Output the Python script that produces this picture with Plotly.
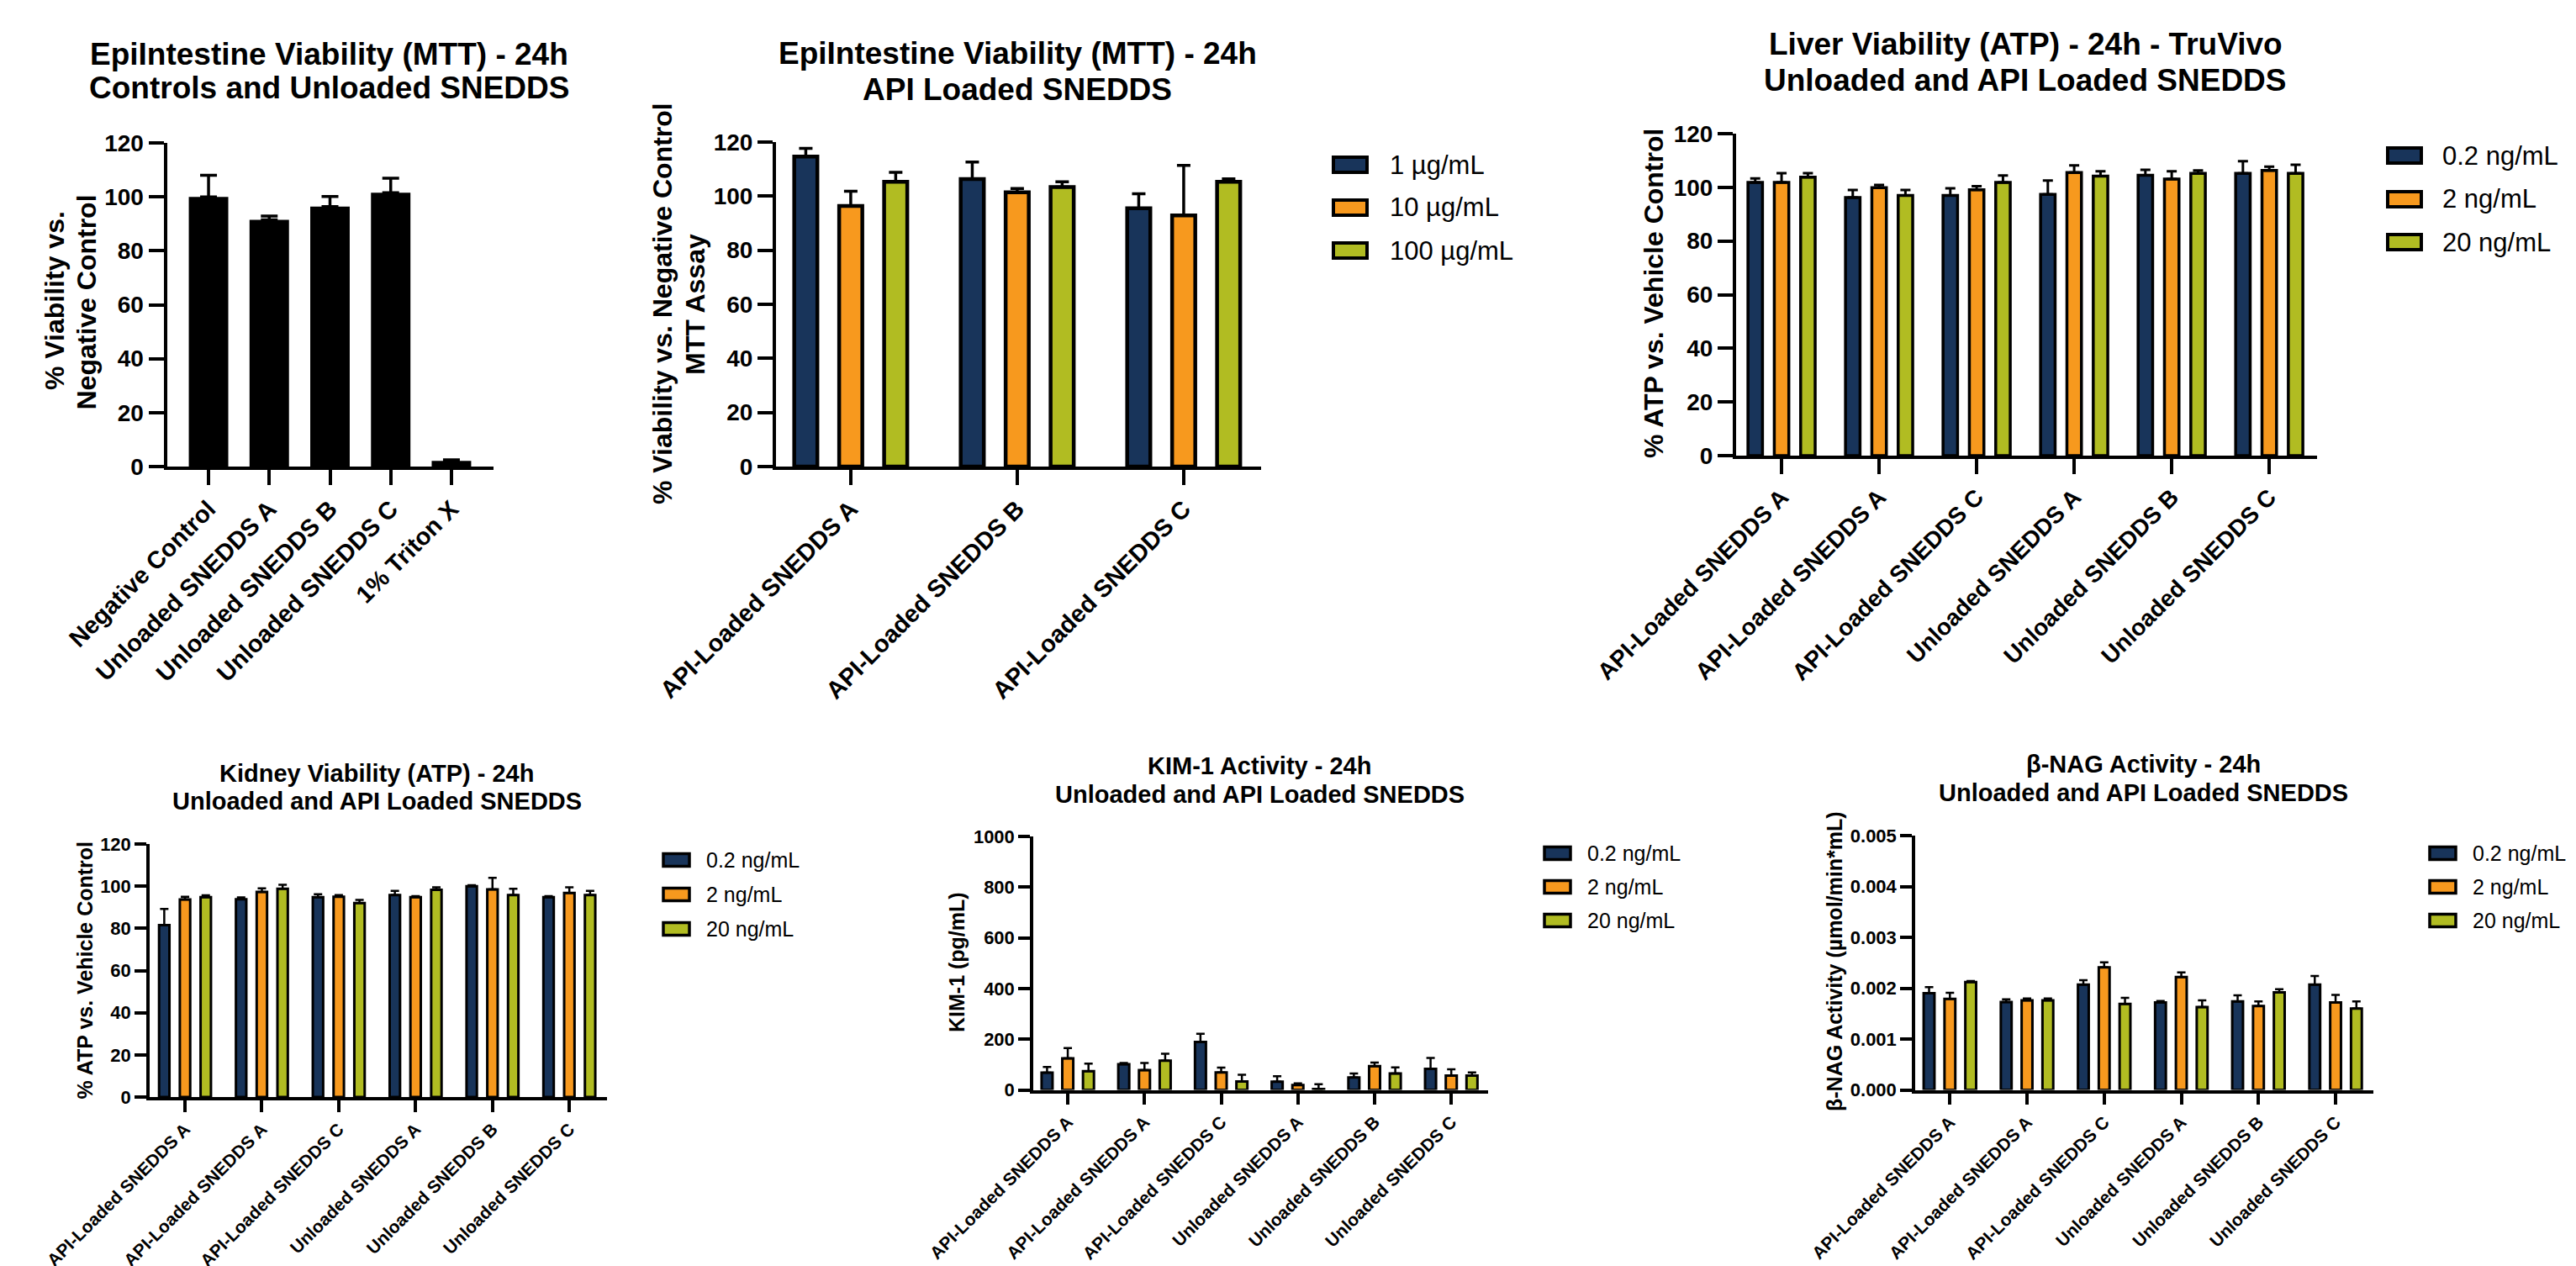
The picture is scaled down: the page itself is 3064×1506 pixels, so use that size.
import numpy as np
import plotly.graph_objects as go

W, H = 3064, 1506
FONT = "Arial, Liberation Sans, Helvetica, sans-serif"
NAVY, ORANGE, OLIVE = "#18345A", "#F7991E", "#B1BC22"

# ---------------- data ----------------
# Panel 1: EpiIntestine MTT - controls & unloaded
p1_categories = ["Negative Control", "Unloaded SNEDDS A", "Unloaded SNEDDS B",
                 "Unloaded SNEDDS C", "1% Triton X"]
p1_mean = [100.0, 91.5, 96.4, 101.5, 2.1]
p1_sd = [8.0, 1.4, 3.7, 5.4, 0.4]

# Panel 2: EpiIntestine MTT - API loaded
p2_categories = ["API-Loaded SNEDDS A", "API-Loaded SNEDDS B", "API-Loaded SNEDDS C"]
p2_series = ["1 µg/mL", "10 µg/mL", "100 µg/mL"]
p2_1ug = [114.6, 106.3, 95.5]
p2_1ug_sd = [3.1, 6.3, 5.4]
p2_10ug = [96.4, 101.4, 92.9]
p2_10ug_sd = [5.4, 1.4, 18.5]
p2_100ug = [105.3, 103.4, 105.3]
p2_100ug_sd = [3.5, 1.9, 1.1]

# shared categories for the 6-group panels
group_categories = ["API-Loaded SNEDDS A", "API-Loaded SNEDDS A", "API-Loaded SNEDDS C",
                    "Unloaded SNEDDS A", "Unloaded SNEDDS B", "Unloaded SNEDDS C"]
ng_series = ["0.2 ng/mL", "2 ng/mL", "20 ng/mL"]

# Panel 3: Liver ATP
p3_02 = [101.8, 96.2, 97.0, 97.4, 104.5, 105.2]
p3_02_sd = [1.5, 2.8, 2.6, 5.1, 2.0, 4.5]
p3_2 = [101.8, 99.9, 99.1, 105.5, 103.1, 106.3]
p3_2_sd = [3.5, 1.0, 1.3, 2.7, 2.9, 1.4]
p3_20 = [103.8, 97.0, 101.8, 104.2, 105.2, 105.2]
p3_20_sd = [1.5, 2.0, 2.6, 1.8, 1.1, 3.2]

# Panel 4: Kidney ATP
p4_02 = [81.5, 93.8, 94.8, 95.8, 100.0, 94.8]
p4_02_sd = [7.7, 0.9, 1.4, 2.0, 0.5, 0.5]
p4_2 = [93.7, 97.3, 95.0, 94.8, 98.5, 96.8]
p4_2_sd = [1.3, 1.7, 0.8, 0.5, 5.5, 2.7]
p4_20 = [94.8, 98.8, 92.0, 98.3, 95.8, 95.8]
p4_20_sd = [0.9, 1.9, 1.5, 1.2, 3.0, 2.0]

# Panel 5: KIM-1 (pg/mL)
p5_02 = [68, 101, 189, 32, 49, 83]
p5_02_sd = [22, 5, 32, 22, 16, 43]
p5_2 = [124, 78, 69, 19, 94, 56]
p5_2_sd = [41, 28, 19, 7, 14, 25]
p5_20 = [74, 115, 33, 3, 65, 56]
p5_20_sd = [30, 28, 27, 19, 24, 13]

# Panel 6: beta-NAG (umol/min*mL)
p6_02 = [0.00190, 0.00173, 0.00207, 0.00172, 0.00174, 0.00207]
p6_02_sd = [0.00012, 0.00005, 0.00009, 0.00003, 0.00012, 0.00017]
p6_2 = [0.00179, 0.00176, 0.00241, 0.00222, 0.00165, 0.00172]
p6_2_sd = [0.00012, 0.00004, 0.00010, 0.00009, 0.00009, 0.00015]
p6_20 = [0.00212, 0.00176, 0.00169, 0.00163, 0.00192, 0.00160]
p6_20_sd = [0.00002, 0.00004, 0.00012, 0.00013, 0.00006, 0.00014]

COLORS = [NAVY, ORANGE, OLIVE]


def px_x(v):
    return v / W


def px_y(v):
    return 1 - v / H


fig = go.Figure()
annotations = []
shapes = []

panels = [
    dict(idx=1, left=190.5, right=579, top=162, bottom=547, xr=[-0.686, 4.693], yr=[0, 120], dtick=20,
         tfmt=None, tick=28, xtick=29, lw=4, tl=18, title=["EpiIntestine Viability (MTT) - 24h",
                                                          "Controls and Unloaded SNEDDS"],
         tsize=37, tx=384, ty=[57, 97], cats=p1_categories),
    dict(idx=2, left=915, right=1492, top=161, bottom=547, xr=[-0.449, 2.465], yr=[0, 120], dtick=20,
         tfmt=None, tick=28, xtick=29, lw=4, tl=18, title=["EpiIntestine Viability (MTT) - 24h",
                                                          "API Loaded SNEDDS"],
         tsize=37, tx=1202, ty=[56, 99], cats=p2_categories),
    dict(idx=3, left=2057, right=2748, top=151, bottom=534, xr=[-0.466, 5.49], yr=[0, 120], dtick=20,
         tfmt=None, tick=28, xtick=28, lw=4, tl=18, title=["Liver Viability (ATP) - 24h - TruVivo",
                                                          "Unloaded and API Loaded SNEDDS"],
         tsize=37, tx=2401, ty=[45, 88], cats=group_categories),
    dict(idx=4, left=170, right=714, top=996, bottom=1297, xr=[-0.46, 5.49], yr=[0, 120], dtick=20,
         tfmt=None, tick=22, xtick=21, lw=3.5, tl=14, title=["Kidney Viability (ATP) - 24h",
                                                            "Unloaded and API Loaded SNEDDS"],
         tsize=29, tx=440, ty=[912, 945], cats=group_categories),
    dict(idx=5, left=1221, right=1762, top=987, bottom=1288.5, xr=[-0.45, 5.48], yr=[0, 1000], dtick=200,
         tfmt=None, tick=22, xtick=21, lw=3.5, tl=14, title=["KIM-1 Activity - 24h",
                                                            "Unloaded and API Loaded SNEDDS"],
         tsize=29, tx=1490, ty=[903, 937], cats=group_categories),
    dict(idx=6, left=2270, right=2815, top=986, bottom=1288.6, xr=[-0.45, 5.49], yr=[0, 0.005], dtick=0.001,
         tfmt=".3f", tick=22, xtick=21, lw=3.5, tl=14, title=["β-NAG Activity - 24h",
                                                             "Unloaded and API Loaded SNEDDS"],
         tsize=29, tx=2541, ty=[901, 935], cats=group_categories),
]

layout_axes = {}
for p in panels:
    i = p["idx"]
    xn = "xaxis" if i == 1 else f"xaxis{i}"
    yn = "yaxis" if i == 1 else f"yaxis{i}"
    n = len(p["cats"])
    layout_axes[xn] = dict(
        domain=[px_x(p["left"]), px_x(p["right"])], anchor="y" if i == 1 else f"y{i}",
        range=p["xr"], tickmode="array", tickvals=list(range(n)), ticktext=p["cats"],
        tickangle=-45, ticks="outside", ticklen=p["tl"], tickwidth=p["lw"], tickcolor="black",
        showline=True, linecolor="black", linewidth=p["lw"], showgrid=False, zeroline=False,
        automargin=False,
        tickfont=dict(family=FONT, size=p["xtick"], color="black", weight="bold"),
    )
    ya = dict(
        domain=[px_y(p["bottom"]), px_y(p["top"])], anchor="x" if i == 1 else f"x{i}",
        range=p["yr"], dtick=p["dtick"], tick0=0, ticks="outside", ticklen=p["tl"],
        tickwidth=p["lw"], tickcolor="black", showline=True, linecolor="black",
        linewidth=p["lw"], showgrid=False, zeroline=False, automargin=False,
        tickfont=dict(family=FONT, size=p["tick"], color="black", weight="bold"),
    )
    if p["tfmt"]:
        ya["tickformat"] = p["tfmt"]
    layout_axes[yn] = ya
    for k, line in enumerate(p["title"]):
        annotations.append(dict(
            text=line, x=px_x(p["tx"]), y=px_y(p["ty"][k]), xref="paper", yref="paper",
            xanchor="center", yanchor="middle", showarrow=False,
            font=dict(family=FONT, size=p["tsize"], color="black", weight="bold")))


def xy(i):
    return ("x", "y") if i == 1 else (f"x{i}", f"y{i}")


# Panel 1 bars (solid black)
xa, ya_ = xy(1)
fig.add_trace(go.Bar(
    x=np.arange(len(p1_categories)), y=p1_mean, name="EpiIntestine", xaxis=xa, yaxis=ya_,
    width=0.65, offset=-0.325, marker=dict(color="black", line=dict(width=0)),
    error_y=dict(type="data", symmetric=False, array=p1_sd, arrayminus=[0] * len(p1_sd),
                 color="black", thickness=3.5, width=10),
    showlegend=False))

grouped = [
    (2, p2_categories, p2_series, [p2_1ug, p2_10ug, p2_100ug], [p2_1ug_sd, p2_10ug_sd, p2_100ug_sd],
     0.139, 4.5, 3.5, 8),
    (3, group_categories, ng_series, [p3_02, p3_2, p3_20], [p3_02_sd, p3_2_sd, p3_20_sd],
     0.149, 3.5, 3.0, 6),
    (4, group_categories, ng_series, [p4_02, p4_2, p4_20], [p4_02_sd, p4_2_sd, p4_20_sd],
     0.135, 3.0, 2.5, 5),
    (5, group_categories, ng_series, [p5_02, p5_2, p5_20], [p5_02_sd, p5_2_sd, p5_20_sd],
     0.143, 3.0, 2.5, 5),
    (6, group_categories, ng_series, [p6_02, p6_2, p6_20], [p6_02_sd, p6_2_sd, p6_20_sd],
     0.14, 3.0, 2.5, 5),
]
for (i, cats, series, means, sds, bw, blw, eth, ew) in grouped:
    xa, ya_ = xy(i)
    for k in range(3):
        center = (k - 1) * 0.27
        fig.add_trace(go.Bar(
            x=np.arange(len(cats)), y=means[k], name=series[k], xaxis=xa, yaxis=ya_,
            width=bw, offset=center - bw / 2,
            marker=dict(color=COLORS[k], line=dict(color="black", width=blw)),
            error_y=dict(type="data", symmetric=False, array=sds[k], arrayminus=[0] * len(cats),
                         color="black", thickness=eth, width=ew),
            showlegend=False))

# y-axis titles (rotated)
ytitles = [
    ("% Viability vs.", 57, 350, 32), ("Negative Control", 94.5, 352, 32),
    ("% Viability vs. Negative Control", 780, 353, 32), ("MTT Assay", 819, 354, 32),
    ("% ATP vs. Vehicle Control", 1959, 341, 32),
    ("% ATP vs. Vehicle Control", 92.5, 1146, 25),
    ("KIM-1 (pg/mL)", 1130, 1137, 25),
    ("β-NAG Activity (µmol/min*mL)", 2174, 1136, 25),
]
for text, cx, cy, fs in ytitles:
    annotations.append(dict(
        text=text, x=px_x(cx), y=px_y(cy), xref="paper", yref="paper", textangle=-90,
        xanchor="center", yanchor="middle", showarrow=False,
        font=dict(family=FONT, size=fs, color="black", weight="bold")))

# legends (swatch + label)
legends = [
    (p2_series, 1578, 40, 18, [188, 239, 290], 1643, 31, 4),
    (ng_series, 2832, 40, 18, [177, 229, 280], 2895, 31, 4),
    (ng_series, 781, 31, 15, [1015, 1056, 1097], 830, 25, 3.5),
    (ng_series, 1829, 31, 15, [1007, 1047, 1087], 1878, 25, 3.5),
    (ng_series, 2882, 31, 15, [1007, 1047, 1087], 2931, 25, 3.5),
]
for names, sx, sw, sh, rows, tx, fs, lw in legends:
    for k, name in enumerate(names):
        cy = rows[k]
        shapes.append(dict(type="rect", xref="paper", yref="paper",
                           x0=px_x(sx), x1=px_x(sx + sw), y0=px_y(cy + sh / 2), y1=px_y(cy - sh / 2),
                           fillcolor=COLORS[k], line=dict(color="black", width=lw)))
        annotations.append(dict(
            text=name, x=px_x(tx), y=px_y(cy), xref="paper", yref="paper",
            xanchor="left", yanchor="middle", showarrow=False,
            font=dict(family=FONT, size=fs, color="black")))

fig.update_layout(
    width=W, height=H, margin=dict(l=0, r=0, t=0, b=0, autoexpand=False),
    paper_bgcolor="white", plot_bgcolor="white", barmode="overlay",
    font=dict(family=FONT, color="black"),
    annotations=annotations, shapes=shapes, showlegend=False,
    **layout_axes,
)

fig.write_html("out.html")
